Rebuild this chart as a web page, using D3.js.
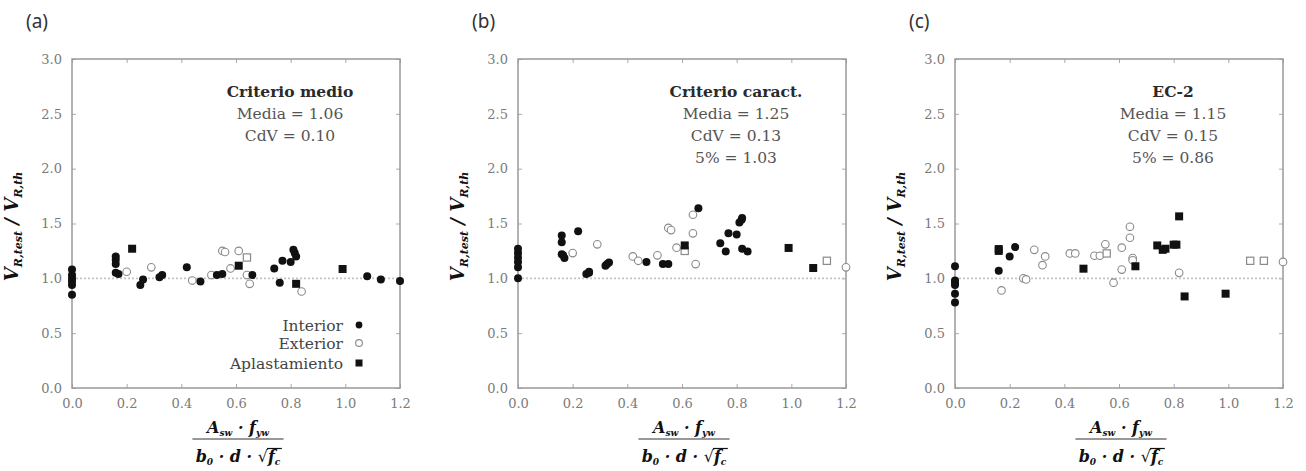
<!DOCTYPE html>
<html>
<head>
<meta charset="utf-8">
<script src="https://cdn.jsdelivr.net/npm/d3@7"></script>
<style>
  body { margin: 0; background: #fff; }
  svg { display: block; }
</style>
</head>
<body>
<svg id="chart" width="1306" height="471"></svg>
<script>
// tick values shared by the three panels
var xTicks = [0, 0.2, 0.4, 0.6, 0.8, 1.0, 1.2];
var yTicks = [0, 0.5, 1.0, 1.5, 2.0, 2.5, 3.0];

var panelLabels = ['(a)', '(b)', '(c)'];
var panelTitles = ['Criterio medio', 'Criterio caract.', 'EC-2'];
var panelStats = [
  ['Media = 1.06', 'CdV = 0.10'],
  ['Media = 1.25', 'CdV = 0.13', '5% = 1.03'],
  ['Media = 1.15', 'CdV = 0.15', '5% = 0.86']
];
var legendNames = ['Interior', 'Exterior', 'Aplastamiento'];

// panel (a) - criterio medio
var interiorA = [[0, 1.08], [0, 1.03], [0, 1.00], [0, 0.97], [0, 0.94], [0, 0.85],
  [0.16, 1.20], [0.16, 1.17], [0.16, 1.13], [0.16, 1.05], [0.17, 1.04],
  [0.25, 0.94], [0.26, 0.99], [0.32, 1.01], [0.33, 1.03], [0.42, 1.10], [0.47, 0.97],
  [0.53, 1.03], [0.55, 1.04], [0.66, 1.03], [0.74, 1.09], [0.76, 0.96], [0.77, 1.16],
  [0.80, 1.15], [0.81, 1.26], [0.815, 1.23], [0.82, 1.20], [1.08, 1.02], [1.13, 0.99], [1.20, 0.975]];
var exteriorA = [[0.20, 1.06], [0.29, 1.10], [0.44, 0.98], [0.51, 1.03], [0.55, 1.25], [0.56, 1.24],
  [0.58, 1.09], [0.61, 1.25], [0.64, 1.03], [0.65, 0.95], [0.84, 0.88]];
var exteriorSqA = [[0.64, 1.19]];
var crushA = [[0.22, 1.27], [0.61, 1.115], [0.82, 0.95], [0.99, 1.085]];

// panel (b) - criterio caracteristico
var interiorB = [[0, 1.27], [0, 1.23], [0, 1.19], [0, 1.15], [0, 1.10], [0, 1.00],
  [0.16, 1.39], [0.16, 1.33], [0.16, 1.22], [0.165, 1.21], [0.17, 1.185],
  [0.22, 1.43], [0.25, 1.04], [0.26, 1.05], [0.26, 1.06], [0.32, 1.115], [0.326, 1.13], [0.333, 1.145],
  [0.47, 1.15], [0.53, 1.13], [0.55, 1.13], [0.66, 1.64], [0.74, 1.32], [0.76, 1.245],
  [0.77, 1.41], [0.80, 1.40], [0.81, 1.51], [0.818, 1.535], [0.82, 1.55], [0.82, 1.27], [0.84, 1.245]];
var exteriorB = [[0.20, 1.23], [0.29, 1.31], [0.42, 1.20], [0.44, 1.16], [0.51, 1.21], [0.55, 1.46],
  [0.56, 1.44], [0.58, 1.28], [0.64, 1.58], [0.64, 1.41], [0.65, 1.13], [1.20, 1.10]];
var exteriorSqB = [[0.61, 1.25], [1.13, 1.16]];
var crushB = [[0.61, 1.30], [0.99, 1.277], [1.08, 1.094]];

// panel (c) - EC-2
var interiorC = [[0, 1.11], [0, 0.98], [0, 0.96], [0, 0.94], [0, 0.86], [0, 0.78],
  [0.16, 1.07], [0.20, 1.20], [0.22, 1.285]];
var exteriorC = [[0.17, 0.89], [0.25, 1.00], [0.26, 0.99], [0.29, 1.26], [0.32, 1.12], [0.33, 1.20],
  [0.42, 1.227], [0.44, 1.227], [0.51, 1.206], [0.53, 1.206], [0.55, 1.31], [0.58, 0.96],
  [0.61, 1.28], [0.61, 1.08], [0.64, 1.47], [0.64, 1.37], [0.65, 1.185], [0.65, 1.165],
  [0.82, 1.05], [1.20, 1.15]];
var exteriorSqC = [[0.555, 1.227], [1.08, 1.16], [1.13, 1.16]];
var crushC = [[0.16, 1.267], [0.16, 1.25], [0.47, 1.088], [0.66, 1.11], [0.74, 1.30], [0.76, 1.26],
  [0.77, 1.27], [0.80, 1.307], [0.81, 1.307], [0.82, 1.565], [0.84, 0.835], [0.99, 0.86]];

var panelInterior = [interiorA, interiorB, interiorC];
var panelExterior = [exteriorA, exteriorB, exteriorC];
var panelExteriorSq = [exteriorSqA, exteriorSqB, exteriorSqC];
var panelCrush = [crushA, crushB, crushC];

// layout
var plotLefts = [72, 518, 955];
var plotTop = 59, plotW = 328, plotH = 329;
var serif = "'DejaVu Serif', serif";
var dark = '#111';

var svg = d3.select('#chart');

var x = d3.scaleLinear().domain([0, 1.2]).range([0, plotW]);
var y = d3.scaleLinear().domain([0, 3]).range([plotH, 0]);
var fmt = d3.format('.1f');

function styleAxis(g) {
  g.attr('font-family', serif).attr('font-size', 13);
  g.select('.domain').remove();
  g.selectAll('line').attr('stroke', '#aaa').attr('stroke-width', 1);
  g.selectAll('text').attr('fill', '#7a7a7a').style('font-family', serif);
}

panelLabels.forEach(function(label, i) {
  var left = plotLefts[i];

  svg.append('text')
    .attr('x', left - 46).attr('y', 28)
    .attr('font-family', "'Noto Sans', sans-serif").attr('font-size', 19)
    .attr('fill', '#333')
    .text(label);

  var g = svg.append('g').attr('transform', 'translate(' + left + ',' + plotTop + ')');

  // axes, ticks pointing inward on all four sides
  g.append('g').attr('transform', 'translate(0,' + plotH + ')')
    .call(d3.axisBottom(x).tickValues(xTicks).tickFormat(fmt).tickSizeInner(-4).tickSizeOuter(0).tickPadding(11))
    .call(styleAxis);
  g.append('g')
    .call(d3.axisLeft(y).tickValues(yTicks).tickFormat(fmt).tickSizeInner(-4).tickSizeOuter(0).tickPadding(10))
    .call(styleAxis);
  g.append('g')
    .call(d3.axisTop(x).tickValues(xTicks).tickFormat('').tickSizeInner(-4).tickSizeOuter(0))
    .call(styleAxis);
  g.append('g').attr('transform', 'translate(' + plotW + ',0)')
    .call(d3.axisRight(y).tickValues(yTicks).tickFormat('').tickSizeInner(-4).tickSizeOuter(0))
    .call(styleAxis);

  g.append('rect')
    .attr('width', plotW).attr('height', plotH)
    .attr('fill', 'none').attr('stroke', '#999').attr('stroke-width', 1.5);

  // reference line at 1.0
  g.append('line')
    .attr('x1', 0).attr('x2', plotW)
    .attr('y1', y(1)).attr('y2', y(1))
    .attr('stroke', '#c4c4c4').attr('stroke-width', 1.6).attr('stroke-dasharray', '2,2');

  // statistics block
  var cx = 218;
  g.append('text')
    .attr('x', cx).attr('y', 37.5).attr('text-anchor', 'middle')
    .style('font-family', serif).attr('font-weight', 'bold').attr('font-size', 15.5)
    .attr('fill', '#2a2a2a')
    .text(panelTitles[i]);
  g.selectAll('.stat').data(panelStats[i]).enter().append('text')
    .attr('class', 'stat')
    .attr('x', cx).attr('y', function(d, j) { return 59.5 + j * 22; })
    .attr('text-anchor', 'middle')
    .style('font-family', serif).attr('font-size', 15.5)
    .attr('fill', '#555')
    .text(function(d) { return d; });

  // markers
  g.selectAll('.ext').data(panelExterior[i]).enter().append('circle')
    .attr('class', 'ext')
    .attr('cx', function(d) { return x(d[0]); })
    .attr('cy', function(d) { return y(d[1]); })
    .attr('r', 3.8)
    .attr('fill', '#fff').attr('stroke', '#8a8a8a').attr('stroke-width', 1.1);
  g.selectAll('.extsq').data(panelExteriorSq[i]).enter().append('rect')
    .attr('class', 'extsq')
    .attr('x', function(d) { return x(d[0]) - 3.6; })
    .attr('y', function(d) { return y(d[1]) - 3.6; })
    .attr('width', 7.2).attr('height', 7.2)
    .attr('fill', '#fff').attr('stroke', '#8a8a8a').attr('stroke-width', 1.2);
  g.selectAll('.int').data(panelInterior[i]).enter().append('circle')
    .attr('class', 'int')
    .attr('cx', function(d) { return x(d[0]); })
    .attr('cy', function(d) { return y(d[1]); })
    .attr('r', 4)
    .attr('fill', dark);
  g.selectAll('.crush').data(panelCrush[i]).enter().append('rect')
    .attr('class', 'crush')
    .attr('x', function(d) { return x(d[0]) - 4; })
    .attr('y', function(d) { return y(d[1]) - 4; })
    .attr('width', 8).attr('height', 8)
    .attr('fill', dark);

  // y label: V_R,test / V_R,th
  var yl = svg.append('text')
    .attr('transform', 'translate(' + (left - 54) + ',' + (plotTop + plotH / 2 + 3) + ') rotate(-90)')
    .attr('text-anchor', 'middle')
    .style('font-family', serif).attr('font-weight', 'bold').attr('font-style', 'italic')
    .attr('font-size', 18).attr('fill', dark);
  yl.append('tspan').text('V');
  yl.append('tspan').attr('dy', 4).attr('font-size', 11).text('R,test');
  yl.append('tspan').attr('dy', -4).text(' / V');
  yl.append('tspan').attr('dy', 4).attr('font-size', 11).text('R,th');

  // x label: fraction
  var mid = left + plotW / 2 + 2;
  var num = svg.append('text')
    .attr('x', mid).attr('y', 433).attr('text-anchor', 'middle')
    .style('font-family', serif).attr('font-weight', 'bold').attr('font-style', 'italic')
    .attr('font-size', 16).attr('fill', dark);
  num.append('tspan').text('A');
  num.append('tspan').attr('dy', 3).attr('font-size', 9).text('sw');
  num.append('tspan').attr('dy', -3).text(' · f');
  num.append('tspan').attr('dy', 3).attr('font-size', 9).text('yw');

  var den = svg.append('text')
    .attr('x', mid).attr('y', 462).attr('text-anchor', 'middle')
    .style('font-family', serif).attr('font-weight', 'bold').attr('font-style', 'italic')
    .attr('font-size', 16).attr('fill', dark);
  den.append('tspan').text('b');
  den.append('tspan').attr('dy', 3).attr('font-size', 9).text('0');
  den.append('tspan').attr('dy', -3).text(' · d · ');
  den.append('tspan').attr('font-style', 'normal').attr('font-weight', 'normal').text('√');
  den.append('tspan').text('f');
  den.append('tspan').attr('dy', 3).attr('font-size', 9).text('c');

  var denBox = den.node().getBBox();
  var rootIdx = den.text().lastIndexOf('√');
  var rootEnd = den.node().getEndPositionOfChar(rootIdx).x;
  svg.append('line')
    .attr('x1', rootEnd - 1).attr('x2', denBox.x + denBox.width + 1)
    .attr('y1', 448.5).attr('y2', 448.5)
    .attr('stroke', dark).attr('stroke-width', 1.2);

  var numBox = num.node().getBBox();
  var half = Math.max(numBox.width, denBox.width) / 2 + 3;
  svg.append('line')
    .attr('x1', mid - half).attr('x2', mid + half)
    .attr('y1', 439).attr('y2', 439)
    .attr('stroke', '#333').attr('stroke-width', 1.2);
});

// legend, first panel only
var legendG = svg.append('g').attr('transform', 'translate(' + plotLefts[0] + ',' + plotTop + ')');
var legendY = [266, 284, 304];
legendNames.forEach(function(name, k) {
  legendG.append('text')
    .attr('x', 271).attr('y', legendY[k] + 5.5)
    .attr('text-anchor', 'end')
    .style('font-family', serif).attr('font-size', 15.5)
    .attr('fill', '#444')
    .text(name);
  if (k === 0) {
    legendG.append('circle').attr('cx', 287).attr('cy', legendY[k]).attr('r', 3.4).attr('fill', dark);
  } else if (k === 1) {
    legendG.append('circle').attr('cx', 287).attr('cy', legendY[k]).attr('r', 3.4)
      .attr('fill', '#fff').attr('stroke', '#8a8a8a').attr('stroke-width', 1.1);
  } else {
    legendG.append('rect').attr('x', 283.5).attr('y', legendY[k] - 3.5)
      .attr('width', 7).attr('height', 7).attr('fill', dark);
  }
});
</script>
</body>
</html>
